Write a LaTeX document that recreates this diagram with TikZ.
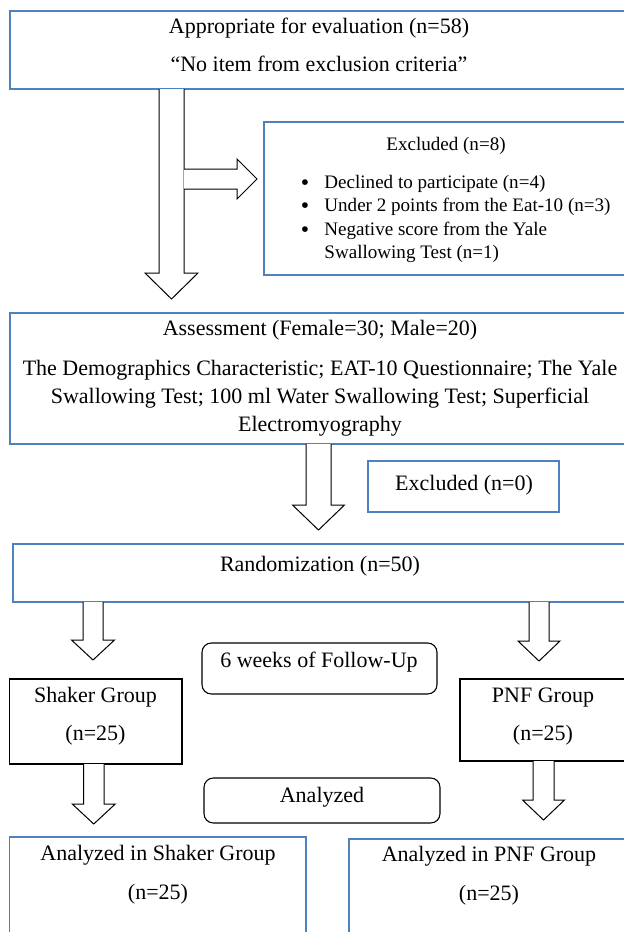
\documentclass[tikz,border=0pt]{standalone}
\usepackage{fontspec}
\setmainfont{Liberation Serif}
\usetikzlibrary{fit,calc}
\definecolor{boxblue}{RGB}{79,129,189}
% block arrow pointing down: start point (top-left of shaft), shaft length, shaft half width, head half width, head length
\newcommand{\DownBlk}[5]{%
  \draw[blk] #1 -- ++(0,#2) -- ++({-(#4-#3)},0) -- ++(#4,#5) -- ++(#4,{-#5}) -- ++({-(#4-#3)},0) -- ++(0,{-#2});}
\newcommand{\bigbul}{\raisebox{-0.09em}{\scalebox{1.25}{\textbullet}}}
\begin{document}
\begin{tikzpicture}[x=0.75pt,y=-0.75pt,
  bluebox/.style={draw=boxblue,line width=1.1pt,inner sep=0pt,outer sep=0pt,fill=none},
  blackbox/.style={draw=black,line width=0.8pt,inner sep=0pt,outer sep=0pt},
  roundbox/.style={draw=black,line width=0.8pt,inner sep=0pt,outer sep=0pt,rounded corners=7pt},
  blk/.style={draw=black,line width=0.75pt,fill=white,line join=miter},
  txt/.style={inner sep=0pt,font=\fontsize{16.5}{21}\selectfont,text height=0.72em,text depth=0.22em},
  smalltxt/.style={inner sep=0pt,font=\fontsize{14.3}{17}\selectfont,text height=0.72em,text depth=0.22em}]
\useasboundingbox (0,0) rectangle (624,932);
\clip (0,0) rectangle (624,932);
% boxes
\node[bluebox,fit={(10,11) (632,89)}] (top) {};
\node[bluebox,fit={(264,122) (632,275)}] (excl8) {};
\node[bluebox,fit={(10,313) (632,444)}] (assess) {};
\node[bluebox,fit={(368,461) (559,512)}] (excl0) {};
\node[bluebox,fit={(13,544) (632,602)}] (rand) {};
\node[roundbox,fit={(202,643) (437,694)}] (follow) {};
\node[blackbox,fit={(9.5,679) (182,764)}] (shaker) {};
\node[blackbox,fit={(460,679) (632,761)}] (pnf) {};
\node[roundbox,fit={(204,778) (440,823)}] (analyzed) {};
\node[bluebox,fit={(9.5,837) (306,960)}] (anS) {};
\node[bluebox,fit={(349,839) (632,960)}] (anP) {};
% texts
\node[txt] (t1) at (319,30) {Appropriate for evaluation (n=58)};
\node[txt] (t2) at (319,68) {“No item from exclusion criteria”};
\node[smalltxt] (t3) at (446,147) {Excluded (n=8)};
\node[inner sep=0pt,anchor=west,font=\fontsize{14.3}{17.6}\selectfont] (t4) at (300.5,219)
  {\begin{tabular}{@{}c@{\hspace{11.5pt}}l@{}}
   \bigbul & Declined to participate (n=4)\\
   \bigbul & Under 2 points from the Eat-10 (n=3)\\
   \bigbul & Negative score from the Yale\\
               & Swallowing Test (n=1)
   \end{tabular}};
\node[txt] (t5) at (320,332) {Assessment (Female=30; Male=20)};
\node[inner sep=0pt,align=center,font=\fontsize{16.5}{21}\selectfont] (t6) at (320,398)
  {The Demographics Characteristic; EAT-10 Questionnaire; The Yale\\
   Swallowing Test; 100 ml Water Swallowing Test; Superficial\\
   Electromyography};
\node[txt] (t7) at (464,487) {Excluded (n=0)};
\node[txt] (t8) at (320,568) {Randomization (n=50)};
\node[txt] (t9) at (319,664) {6 weeks of Follow-Up};
\node[txt] (t10) at (95.5,699) {Shaker Group};
\node[txt] (t11) at (95.5,737) {(n=25)};
\node[txt] (t12) at (543,699) {PNF Group};
\node[txt] (t13) at (543,737) {(n=25)};
\node[txt] (t14) at (322,799) {Analyzed};
\node[txt] (t15) at (158,857) {Analyzed in Shaker Group};
\node[txt] (t16) at (158,896) {(n=25)};
\node[txt] (t17) at (489,858) {Analyzed in PNF Group};
\node[txt] (t18) at (489,897) {(n=25)};
% block arrows
\DownBlk{($(top.south west)+(149,0)$)}{184}{12.5}{26.5}{26}
\draw[blk] ($(top.south west)+(174,80)$) -- ++(53,0) -- ++(0,-10) -- ++(20,20) -- ++(-20,20) -- ++(0,-10) -- ++(-53,0);
\DownBlk{($(assess.south west)+(296,0)$)}{61}{12.5}{26}{25}
\DownBlk{($(rand.south west)+(70,0)$)}{38}{10}{21.5}{20}
\DownBlk{($(rand.south west)+(516,0)$)}{39}{10}{21}{20}
\DownBlk{($(shaker.south west)+(74,0)$)}{40}{10.25}{21.5}{20}
\DownBlk{($(pnf.south west)+(73,0)$)}{39}{10.5}{21}{20}
\end{tikzpicture}
\end{document}
